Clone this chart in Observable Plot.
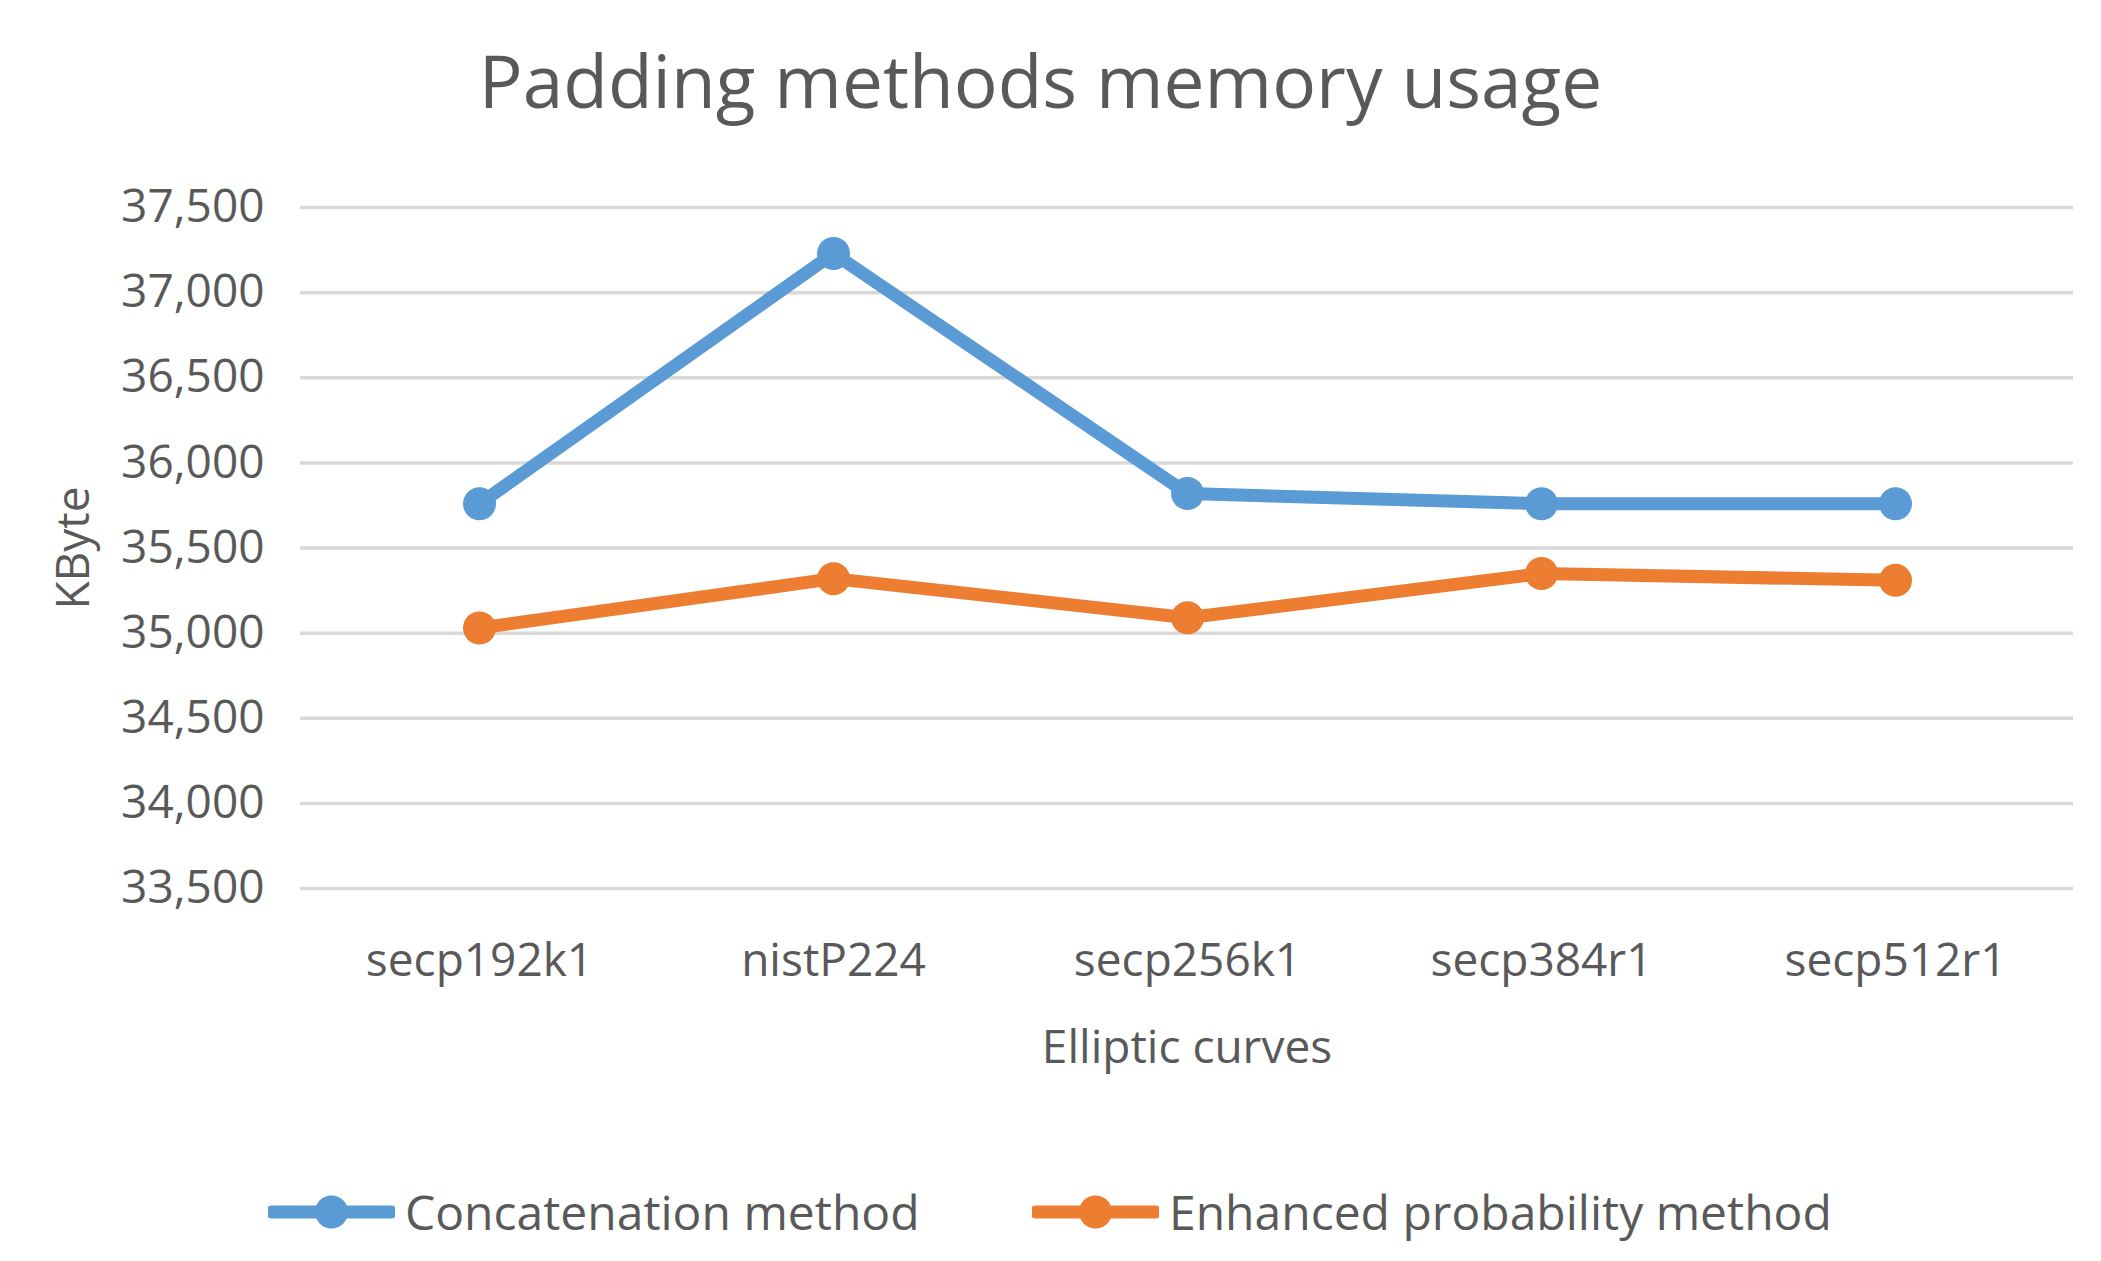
<!DOCTYPE html>
<html>
<head>
<meta charset="utf-8">
<script src="https://cdn.jsdelivr.net/npm/d3@7"></script>
<script src="https://cdn.jsdelivr.net/npm/@observablehq/plot@0.6"></script>
<style>
  html, body { margin: 0; padding: 0; background: #ffffff; }
  #wrap { position: relative; width: 2101px; height: 1261px; overflow: hidden; font-family: "Open Sans", sans-serif; color: #595959; }
  #title { position: absolute; left: 0; top: 5px; width: 2081px; height: 150px; text-align: center; font-size: 73px; line-height: 150px; color: #595959; white-space: nowrap; }
  #chart { position: absolute; left: 0; top: 150px; }
  #legend { position: absolute; left: 0; top: 1146px; width: 2101px; height: 115px; }
  .item { position: absolute; top: 0; height: 131px; display: flex; align-items: center; font-size: 48px; color: #595959; white-space: nowrap; }
  .item svg { margin-right: 10px; }
</style>
</head>
<body>
<div id="wrap">
  <div id="title">Padding methods memory usage</div>
  <div id="chart"></div>
  <div id="legend"></div>
</div>
<script>
const curves = ["secp192k1", "nistP224", "secp256k1", "secp384r1", "secp512r1"];
const concatenation = [35760, 37230, 35820, 35760, 35760];
const enhanced = [35030, 35320, 35090, 35350, 35310];
const seriesNames = ["Concatenation method", "Enhanced probability method"];
const seriesColors = ["#5B9BD5", "#ED7D31"];
const yTicks = [33500, 34000, 34500, 35000, 35500, 36000, 36500, 37000, 37500];

const rows = [];
curves.forEach((c, i) => {
  rows.push({curve: c, value: concatenation[i], series: seriesNames[0]});
  rows.push({curve: c, value: enhanced[i], series: seriesNames[1]});
});

const plot = Plot.plot({
  width: 2101,
  height: 980,
  marginLeft: 300,
  marginRight: 28,
  marginTop: 57,
  marginBottom: 242,
  style: { fontFamily: "Open Sans, sans-serif", fontSize: "46px", color: "#595959", background: "#ffffff" },
  x: { type: "point", domain: curves, padding: 0.5, align: 0.5 },
  y: { domain: [33500, 37500] },
  color: { domain: seriesNames, range: seriesColors },
  marks: [
    Plot.gridY(yTicks, { stroke: "#d9d9d9", strokeWidth: 3.5, strokeOpacity: 1 }),
    Plot.axisX({ tickSize: 0, tickPadding: 55, fontSize: 46, label: "Elliptic curves", labelAnchor: "center", labelOffset: 174, labelArrow: "none" }),
    Plot.axisY(yTicks, { tickFormat: d3.format(","), tickSize: 0, tickPadding: 36, fontSize: 46, label: "KByte", labelAnchor: "center", labelOffset: 244, labelArrow: "none" }),
    Plot.lineY(rows, { x: "curve", y: "value", z: "series", stroke: "series", strokeWidth: 13, strokeLinejoin: "round", strokeLinecap: "round" }),
    Plot.dot(rows, { x: "curve", y: "value", fill: "series", r: 16.5, stroke: "none" })
  ]
});
document.getElementById("chart").appendChild(plot);

// Legend
const legend = document.getElementById("legend");
const lefts = [268, 1032];
seriesNames.forEach((name, i) => {
  const item = document.createElement("div");
  item.className = "item";
  item.style.left = lefts[i] + "px";
  item.innerHTML = `<svg width="127" height="40" viewBox="0 0 127 40"><line x1="4" y1="20" x2="123" y2="20" stroke="${seriesColors[i]}" stroke-width="13" stroke-linecap="round"/><circle cx="63.5" cy="20" r="16.5" fill="${seriesColors[i]}"/></svg><span>${name}</span>`;
  legend.appendChild(item);
});
</script>
</body>
</html>
